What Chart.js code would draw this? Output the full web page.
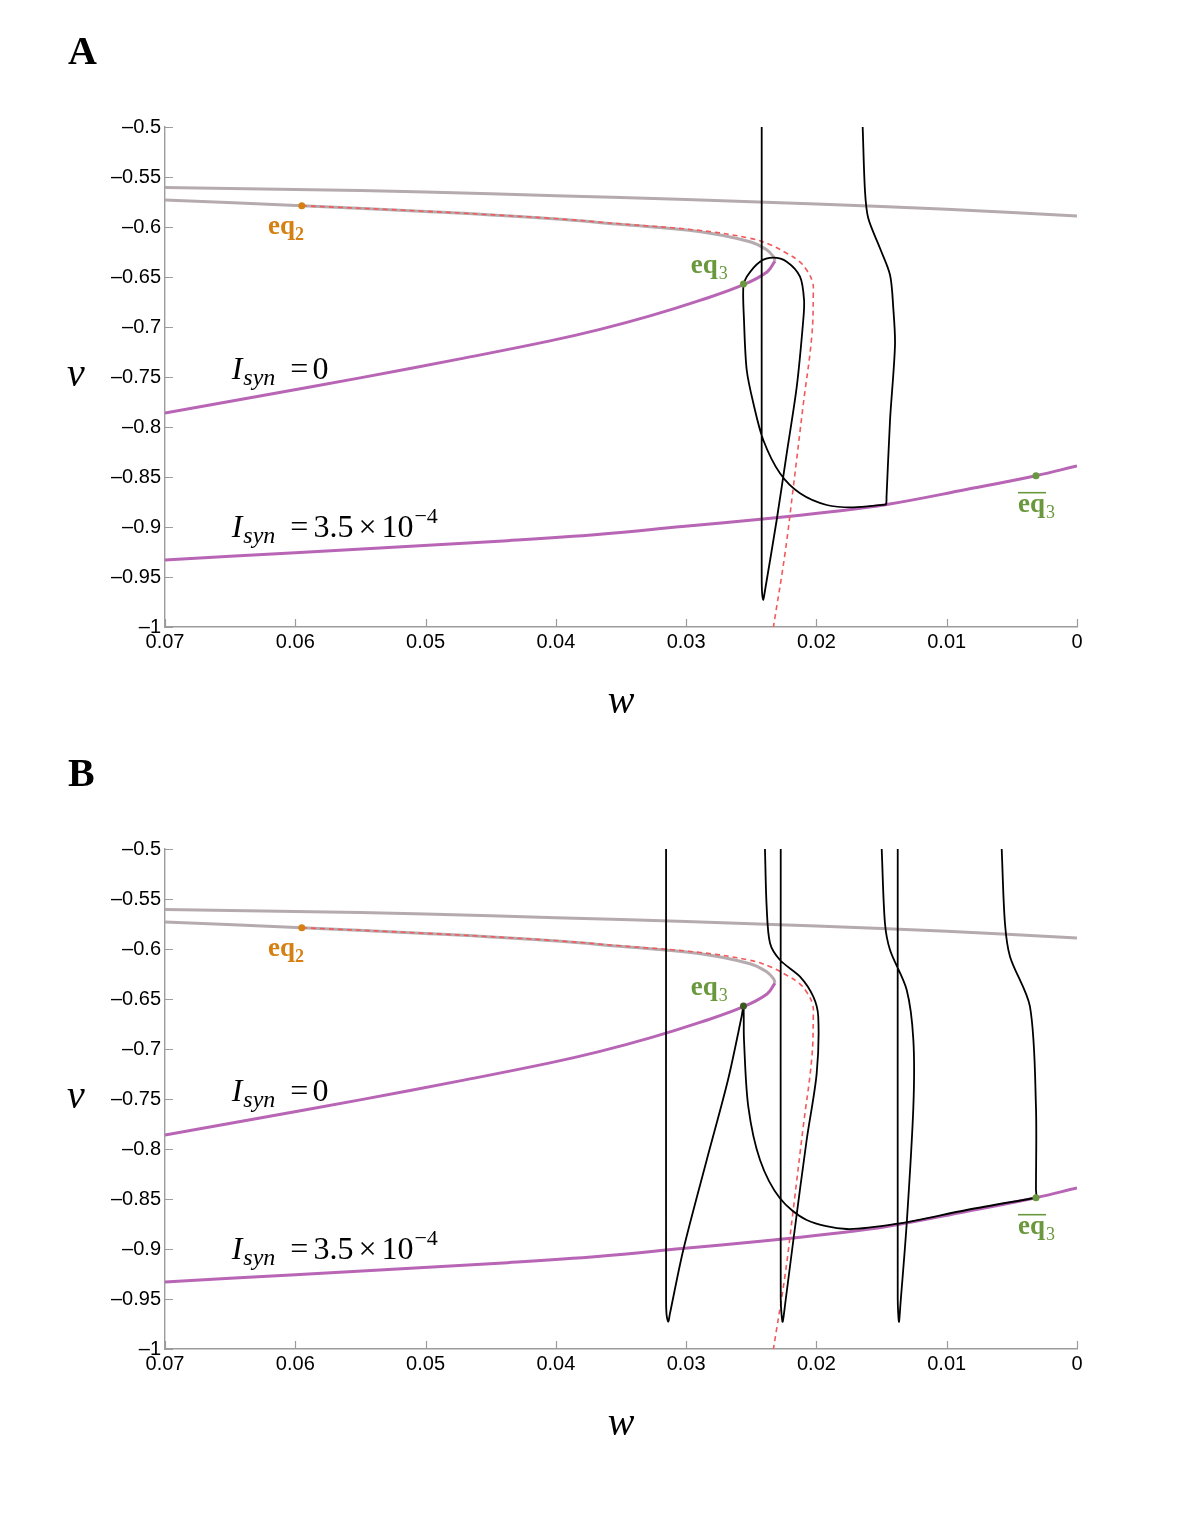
<!DOCTYPE html>
<html>
<head>
<meta charset="utf-8">
<script src="https://cdn.jsdelivr.net/npm/chart.js@4.4.1/dist/chart.umd.min.js"></script>
<style>
  html, body { margin: 0; padding: 0; background: #fff; }
  body { width: 1200px; height: 1532px; position: relative; }
  .panel { position: absolute; left: 0; width: 1200px; height: 722px; }
</style>
</head>
<body>
<div class="panel" style="top:0"><canvas id="chartA" width="1200" height="722"></canvas></div>
<div class="panel" style="top:722px"><canvas id="chartB" width="1200" height="722"></canvas></div>
<script>
// axes
var xTicks = [0.07, 0.06, 0.05, 0.04, 0.03, 0.02, 0.01, 0];
var yTicks = [-0.5, -0.55, -0.6, -0.65, -0.7, -0.75, -0.8, -0.85, -0.9, -0.95, -1];

// upper gray curve
var grayW = [0.07, 0.06, 0.05, 0.04, 0.03, 0.02, 0.01, 0];
var grayV = [-0.5605, -0.5625, -0.565, -0.5688, -0.5725, -0.577, -0.5822, -0.589];

// I_syn = 0 nullcline, upper (gray) and lower (purple) branch
var upperW = [0.07, 0.0595, 0.05, 0.0405, 0.0351, 0.0289, 0.0251, 0.0238, 0.0233, 0.02318];
var upperV = [-0.573, -0.5787, -0.5845, -0.5915, -0.5973, -0.6047, -0.6147, -0.623, -0.6297, -0.634];
var lowerW = [0.02318, 0.02379, 0.02564, 0.02894, 0.03277, 0.03661, 0.04045, 0.04736, 0.05503, 0.06271, 0.07];
var lowerV = [-0.634, -0.645, -0.6579, -0.6734, -0.6889, -0.7024, -0.7139, -0.7319, -0.7509, -0.7689, -0.786];

// I_syn = 3.5e-4 nullcline
var synW = [0.07, 0.06, 0.0525, 0.0437, 0.0366, 0.0303, 0.0243, 0.0187, 0.0146, 0.0085, 0.00315, 0];
var synV = [-0.933, -0.9257, -0.9203, -0.9137, -0.9073, -0.8996, -0.8923, -0.8845, -0.8775, -0.8625, -0.8487, -0.839];

// red dashed curve
var sepW = [0.0595, 0.05, 0.0405, 0.0351, 0.0289, 0.0251, 0.0235, 0.02228, 0.02135, 0.02075, 0.0203, 0.02024, 0.02036, 0.021, 0.02177, 0.02241, 0.0233];
var sepV = [-0.5787, -0.5843, -0.5912, -0.5968, -0.6035, -0.6113, -0.618, -0.6263, -0.634, -0.643, -0.655, -0.6663, -0.7097, -0.7763, -0.8597, -0.9263, -1.0];

// equilibria
var eq2 = [0.0595, -0.5787];
var eq3 = [0.0256, -0.657];
var eq3bar = [0.00315, -0.8487];

// panel A trajectory
var trajAW = [0.0242, 0.0242, 0.02417, 0.02408, 0.02398, 0.02305, 0.02228, 0.02151, 0.02101, 0.02095, 0.02126, 0.02228, 0.02331, 0.02433, 0.02535, 0.02561, 0.02556, 0.02535, 0.02484, 0.02408, 0.0228, 0.02126, 0.01921, 0.01717, 0.0149, 0.01466, 0.01462, 0.01435, 0.01397, 0.0141, 0.01435, 0.01512, 0.01602, 0.01627, 0.01645];
var trajAV = [-0.5, -0.95, -0.966, -0.973, -0.966, -0.893, -0.8263, -0.7597, -0.693, -0.673, -0.6497, -0.6347, -0.6307, -0.6347, -0.6497, -0.6597, -0.693, -0.743, -0.7763, -0.813, -0.8463, -0.8663, -0.878, -0.8803, -0.8778, -0.8773, -0.87, -0.793, -0.718, -0.6813, -0.648, -0.6213, -0.5913, -0.5647, -0.5];

// panel B trajectories
var trajB1W = [0.03154, 0.03154, 0.0315, 0.03137, 0.03125, 0.03022, 0.02842, 0.02679, 0.02575, 0.0256, 0.02558, 0.02556, 0.02523, 0.02433, 0.0228, 0.02075, 0.01768, 0.01358, 0.00847, 0.0035, 0.00315, 0.00315, 0.00315, 0.00361, 0.00514, 0.00553, 0.00578];
var trajB1V = [-0.5, -0.95, -0.966, -0.9727, -0.965, -0.901, -0.811, -0.731, -0.668, -0.657, -0.666, -0.691, -0.7577, -0.811, -0.8493, -0.871, -0.88, -0.8743, -0.861, -0.8495, -0.8487, -0.84, -0.7577, -0.6577, -0.6077, -0.5743, -0.5];
var trajB2W = [0.02395, 0.02382, 0.02356, 0.0228, 0.02126, 0.02024, 0.01986, 0.01998, 0.02075, 0.02177, 0.0224, 0.02259, 0.02268, 0.02274, 0.02274];
var trajB2V = [-0.5, -0.5577, -0.5943, -0.611, -0.6277, -0.6477, -0.6677, -0.7243, -0.791, -0.891, -0.955, -0.9727, -0.965, -0.95, -0.5];
var trajB3W = [0.01499, 0.01474, 0.01435, 0.01307, 0.01256, 0.01256, 0.01307, 0.01355, 0.01366, 0.01372, 0.01376, 0.01376];
var trajB3V = [-0.5, -0.5743, -0.601, -0.641, -0.691, -0.7577, -0.8743, -0.955, -0.9727, -0.965, -0.95, -0.5];

var grayColor = '#b5abae';
var purpleColor = '#b865b5';
var redColor = '#f2595b';
var orangeColor = '#d67f12';
var greenColor = '#6a983c';
var axisColor = '#9c9c9c';
var serif = '"Liberation Serif", "DejaVu Serif", serif';
var sans = '"Liberation Sans", Arial, sans-serif';

function pts(ws, vs) {
	var out = [];
	for (var i = 0; i < ws.length; i++) {
		out.push({x: ws[i], y: vs[i]});
	}
	return out;
}

function fmt(value) {
	var s = String(parseFloat(Math.abs(value).toFixed(2)));
	return value < 0 ? '\u2013' + s : s;
}

function lineSet(data, color, width, order, tension, dash) {
	return {
		data: data,
		showLine: true,
		borderColor: color,
		borderWidth: width,
		borderDash: dash || [],
		pointRadius: 0,
		tension: tension,
		order: order
	};
}

function dotSet(p, color) {
	return {
		data: [{x: p[0], y: p[1]}],
		showLine: false,
		pointRadius: 3.5,
		pointBackgroundColor: color,
		pointBorderWidth: 0,
		order: 0
	};
}

// draw a run of text pieces one after the other
function drawRich(ctx, x, y, parts, color) {
	ctx.fillStyle = color;
	ctx.textBaseline = 'alphabetic';
	ctx.textAlign = 'left';
	parts.forEach(function(p) {
		x += p.gap || 0;
		ctx.font = p.font;
		ctx.fillText(p.t, x, y + (p.dy || 0));
		x += ctx.measureText(p.t).width;
	});
}

function isynParts(rest) {
	var parts = [
		{t: 'I', font: 'italic 32px ' + serif},
		{t: 'syn', font: 'italic 24px ' + serif, dy: 6, gap: 1},
		{t: '=', font: '32px ' + serif, gap: 15}
	];
	return parts.concat(rest);
}

function makePanel(canvasId, letter, trajs, eq3Dark) {
	var datasets = [
		lineSet(pts(grayW, grayV), grayColor, 3, 4, 0.4),
		lineSet(pts(upperW, upperV), grayColor, 3, 4, 0.4),
		lineSet(pts(lowerW, lowerV), purpleColor, 3, 4, 0.4),
		lineSet(pts(synW, synV), purpleColor, 3, 4, 0.4),
		lineSet(pts(sepW, sepV), redColor, 1.6, 2, 0.4, [5, 4]),
		dotSet(eq2, orangeColor),
		dotSet(eq3, eq3Dark ? '#3c5a22' : greenColor),
		dotSet(eq3bar, greenColor)
	];
	trajs.forEach(function(t) {
		datasets.push(lineSet(pts(t[0], t[1]), '#000', 1.8, 1, 0.3));
	});

	var decor = {
		id: 'decor',
		beforeDatasetsDraw: function(chart) {
			var ctx = chart.ctx, area = chart.chartArea;
			var xs = chart.scales.x, ys = chart.scales.y;
			ctx.save();
			ctx.strokeStyle = axisColor;
			ctx.lineWidth = 1.2;
			ctx.beginPath();
			xTicks.forEach(function(t) {
				var px = Math.round(xs.getPixelForValue(t)) + 0.5;
				ctx.moveTo(px, area.bottom);
				ctx.lineTo(px, area.bottom - 8);
			});
			yTicks.forEach(function(t) {
				var py = Math.round(ys.getPixelForValue(t)) + 0.5;
				ctx.moveTo(area.left, py);
				ctx.lineTo(area.left + 8, py);
			});
			ctx.stroke();
			ctx.restore();
		},
		afterDraw: function(chart) {
			var ctx = chart.ctx, area = chart.chartArea;
			var xs = chart.scales.x, ys = chart.scales.y;
			function X(w) { return xs.getPixelForValue(w); }
			function Y(v) { return ys.getPixelForValue(v); }
			ctx.save();

			// panel letter and axis names
			ctx.fillStyle = '#000';
			ctx.font = 'bold 40px ' + serif;
			ctx.textAlign = 'left';
			ctx.textBaseline = 'alphabetic';
			ctx.fillText(letter, 68, 64);
			ctx.font = 'italic 40px ' + serif;
			ctx.textAlign = 'center';
			ctx.fillText('v', area.left - 89, (area.top + area.bottom) / 2 + 9);
			ctx.fillText('w', (area.left + area.right) / 2, area.bottom + 86);

			// curve names
			drawRich(ctx, X(0.06488), Y(-0.7523), isynParts([
				{t: '0', font: '32px ' + serif, gap: 4}
			]), '#000');
			drawRich(ctx, X(0.06488), Y(-0.9103), isynParts([
				{t: '3.5', font: '32px ' + serif, gap: 5},
				{t: '\u00d7', font: '32px ' + serif, gap: 5},
				{t: '10', font: '32px ' + serif, gap: 5},
				{t: '\u22124', font: '22px ' + serif, dy: -14, gap: 1}
			]), '#000');

			// equilibrium names
			drawRich(ctx, X(0.0621), Y(-0.607), [
				{t: 'eq', font: 'bold 27px ' + serif},
				{t: '2', font: 'bold 18px ' + serif, dy: 6}
			], orangeColor);
			drawRich(ctx, X(0.02965), Y(-0.6463), [
				{t: 'eq', font: 'bold 27px ' + serif},
				{t: '3', font: '18px ' + serif, dy: 6, gap: 1}
			], greenColor);
			var bx = X(0.00453), by = Y(-0.8847);
			drawRich(ctx, bx, by, [
				{t: 'eq', font: 'bold 27px ' + serif},
				{t: '3', font: '18px ' + serif, dy: 6, gap: 1}
			], greenColor);
			ctx.font = 'bold 27px ' + serif;
			var ew = ctx.measureText('eq').width;
			ctx.strokeStyle = greenColor;
			ctx.lineWidth = 1.6;
			ctx.beginPath();
			ctx.moveTo(bx, by - 19);
			ctx.lineTo(bx + ew + 1, by - 19);
			ctx.stroke();

			ctx.restore();
		}
	};

	return new Chart(document.getElementById(canvasId), {
		type: 'scatter',
		data: {datasets: datasets},
		options: {
			responsive: false,
			animation: false,
			devicePixelRatio: 1,
			layout: {padding: {top: 127, right: 123, left: 0, bottom: 0}},
			plugins: {legend: {display: false}, tooltip: {enabled: false}},
			scales: {
				x: {
					type: 'linear',
					reverse: true,
					min: 0,
					max: 0.07,
					afterFit: function(scale) { scale.height = 95; },
					afterBuildTicks: function(scale) {
						scale.ticks = xTicks.map(function(v) { return {value: v}; });
					},
					grid: {drawOnChartArea: false, drawTicks: false},
					border: {display: true, color: axisColor, width: 1.4},
					ticks: {
						autoSkip: false,
						maxRotation: 0,
						padding: 3,
						color: '#000',
						font: {family: sans, size: 20},
						callback: fmt
					}
				},
				y: {
					type: 'linear',
					min: -1,
					max: -0.5,
					afterFit: function(scale) { scale.width = 165; },
					afterBuildTicks: function(scale) {
						scale.ticks = yTicks.map(function(v) { return {value: v}; });
					},
					grid: {drawOnChartArea: false, drawTicks: false},
					border: {display: true, color: axisColor, width: 1.4},
					ticks: {
						autoSkip: false,
						padding: 4,
						color: '#000',
						font: {family: sans, size: 20},
						callback: fmt
					}
				}
			}
		},
		plugins: [decor]
	});
}

makePanel('chartA', 'A', [[trajAW, trajAV]], false);
makePanel('chartB', 'B', [[trajB1W, trajB1V], [trajB2W, trajB2V], [trajB3W, trajB3V]], true);
</script>
</body>
</html>
